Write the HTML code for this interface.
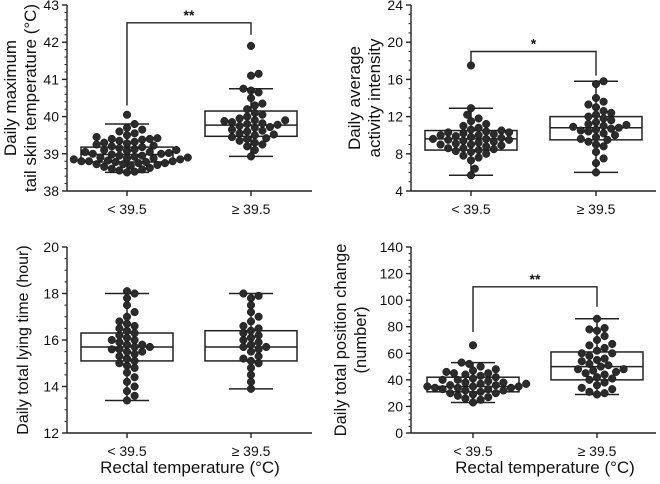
<!DOCTYPE html>
<html><head><meta charset="utf-8"><style>
body{margin:0;background:#fff}
svg{display:block;font-family:"Liberation Sans",Arial,sans-serif}
</style></head><body>
<svg id="c" width="660" height="484" xmlns="http://www.w3.org/2000/svg"></svg>
<script>
// ---------- DATA ----------
const categories = ["< 39.5", "\u2265 39.5"];
const p1_low = [38.5,38.52,38.55,38.58,38.6,38.62,38.65,38.68,38.7,38.72,38.72,38.75,38.75,38.78,38.78,38.8,38.8,38.8,38.82,38.85,38.85,38.88,38.88,38.9,38.9,38.92,38.95,38.95,38.98,39.0,39.0,39.02,39.05,39.05,39.08,39.1,39.1,39.12,39.15,39.18,39.2,39.22,39.25,39.28,39.3,39.32,39.35,39.38,39.4,39.4,39.42,39.45,39.5,39.55,39.6,39.65,39.7,39.8,40.05];
const p1_high = [38.93,39.1,39.2,39.25,39.3,39.35,39.4,39.42,39.45,39.5,39.52,39.55,39.6,39.62,39.65,39.7,39.72,39.75,39.78,39.8,39.82,39.85,39.88,39.9,39.9,39.95,40.0,40.05,40.1,40.2,40.3,40.35,40.5,40.65,40.7,40.75,41.1,41.15,41.9];
const p2_low = [5.7,6.4,7.3,7.6,7.8,8.0,8.2,8.3,8.4,8.5,8.6,8.6,8.8,8.9,9.0,9.0,9.1,9.2,9.3,9.4,9.5,9.5,9.6,9.6,9.7,9.8,9.9,10.0,10.0,10.1,10.2,10.3,10.3,10.4,10.5,10.6,10.8,11.0,11.2,11.5,11.8,12.2,12.9,17.5];
const p2_high = [6.0,7.0,7.5,8.2,8.8,9.0,9.3,9.5,9.6,9.8,10.0,10.2,10.4,10.5,10.6,10.7,10.8,10.9,11.0,11.1,11.2,11.4,11.6,11.8,12.0,12.2,12.4,12.6,13.0,13.3,13.6,14.0,15.5,15.8];
const p3_low = [13.4,13.6,13.8,14.0,14.2,14.4,14.6,14.8,14.9,15.0,15.1,15.2,15.3,15.4,15.5,15.5,15.6,15.6,15.7,15.7,15.8,15.8,15.9,16.0,16.0,16.1,16.2,16.3,16.4,16.5,16.6,16.7,16.8,17.0,17.2,17.5,17.8,18.0,18.1];
const p3_high = [13.9,14.2,14.5,14.8,15.0,15.1,15.2,15.3,15.5,15.6,15.7,15.7,15.8,15.9,16.0,16.1,16.2,16.3,16.4,16.5,16.6,16.8,17.0,17.2,17.5,17.8,17.9,18.0];
const p4_low = [23,25,26,27,28,29,30,30,31,32,32,33,33,34,34,34,35,35,35,36,36,37,37,38,38,39,40,40,41,42,43,44,45,45,46,47,48,50,52,53,66];
const p4_high = [29,30,31,33,34,36,38,40,41,42,44,45,46,47,48,48,50,51,52,54,55,56,58,60,60,62,64,66,67,70,73,77,78,79,86];
// box stats: [whiskerLow, q1, median, q3, whiskerHigh]
const p1_box = [[38.5,38.78,38.98,39.18,39.8],[38.93,39.47,39.77,40.15,40.75]];
const p2_box = [[5.7,8.4,9.6,10.5,12.9],[6.0,9.5,10.8,12.0,15.8]];
const p3_box = [[13.4,15.1,15.7,16.3,18.0],[13.9,15.1,15.7,16.4,18.0]];
const p4_box = [[23,31,35,42,53],[29,40,50,61,86]];
// significance: [bracketY, leftLegEnd, rightLegEnd], label
const p1_sig = [42.52,40.3,42.2]; const p1_sigLabel = "**";
const p2_sig = [19.0,17.9,16.4]; const p2_sigLabel = "*";
const p4_sig = [110,76,95]; const p4_sigLabel = "**";
const p1_ticks=[38,39,40,41,42,43], p2_ticks=[4,8,12,16,20,24], p3_ticks=[12,14,16,18,20], p4_ticks=[0,20,40,60,80,100,120,140];

// ---------- DRAW ----------
const svg=document.getElementById('c');
const NS="http://www.w3.org/2000/svg";
function mk(tag,attrs,parent){const e=document.createElementNS(NS,tag);for(const k in attrs)e.setAttribute(k,attrs[k]);(parent||svg).appendChild(e);return e;}

function panel(cfg){
  const g=mk('g',{});
  
  
  const ymin=cfg.ticks[0], ymax=cfg.ticks[cfg.ticks.length-1];
  const Y=v=>cfg.yb-(v-ymin)/(ymax-ymin)*(cfg.yb-cfg.yt);
  const ya=mk('line',{x1:cfg.x0,y1:cfg.yt,x2:cfg.x0,y2:cfg.yb,stroke:'#222','stroke-width':1.4},g);
   
  const xa=mk('line',{x1:cfg.x0,y1:cfg.yb,x2:cfg.x1,y2:cfg.yb,stroke:'#222','stroke-width':1.4},g);
   
  const step=cfg.ticks[1]-cfg.ticks[0];
  for(let v=ymin;v<=ymax+1e-9;v+=step/cfg.minor){
    mk('line',{x1:cfg.x0-2.5,y1:Y(v),x2:cfg.x0,y2:Y(v),stroke:'#222','stroke-width':1},g);
  }
  cfg.ticks.forEach(t=>{
    mk('line',{x1:cfg.x0-5,y1:Y(t),x2:cfg.x0,y2:Y(t),stroke:'#222','stroke-width':1.4},g);
    const tx=mk('text',{x:cfg.x0-8,y:Y(t)+5,'text-anchor':'end','font-size':14,fill:'#111'},g);
    tx.textContent=t;
     
  });
  cfg.title.forEach((line,i)=>{
    const tx=mk('text',{x:0,y:0,'text-anchor':'middle','font-size':cfg.tfs||16.5,fill:'#111',
      transform:`translate(${cfg.tx[i]},${(cfg.yt+cfg.yb)/2}) rotate(-90)`},g);
    tx.textContent=line;
     
  });
  cfg.data.forEach((arr,gi)=>{
    const cx=cfg.cx[gi], b=cfg.box[gi], hw=46, cap=22;
    const lab=mk('text',{x:cx,y:cfg.yb+23,'text-anchor':'middle','font-size':14,fill:'#111'},g);
    lab.textContent=categories[gi];
     
    mk('line',{x1:cx,y1:cfg.yb,x2:cx,y2:cfg.yb+5,stroke:'#222','stroke-width':1.4},g);
    const bg=mk('g',{stroke:'#222','stroke-width':1.5,fill:'none'},g);
     
    mk('line',{x1:cx,y1:Y(b[0]),x2:cx,y2:Y(b[4])},bg);
    mk('line',{x1:cx-cap,y1:Y(b[0]),x2:cx+cap,y2:Y(b[0])},bg);
    mk('line',{x1:cx-cap,y1:Y(b[4]),x2:cx+cap,y2:Y(b[4])},bg);
    mk('rect',{x:cx-hw,y:Y(b[3]),width:2*hw,height:Y(b[1])-Y(b[3]),fill:'#fff'},bg);
    mk('line',{x1:cx-hw,y1:Y(b[2]),x2:cx+hw,y2:Y(b[2])},bg);
    const r=3.8, placed=[];
    const sorted=arr.slice().sort((a,b)=>a-b);
    sorted.forEach(v=>{
      const y=Y(v); let x=cx;
      for(let k=0;k<60;k++){
        const off=(k%2?1:-1)*Math.ceil(k/2)*r*1.0;
        const tx=cx+off;
        if(placed.every(p=>(p[0]-tx)**2+(p[1]-y)**2>=(2*r*0.9)**2)){x=tx;break;}
      }
      placed.push([x,y]);
      const c=mk('circle',{cx:x,cy:y,r:r,fill:'#2b2b2b',stroke:'#111','stroke-width':0.5},g);
       
    });
  });
  if(cfg.sig){
    const s=cfg.sig;
    const br=mk('path',{d:`M${cfg.cx[0]},${Y(s[1])}V${Y(s[0])}H${cfg.cx[1]}V${Y(s[2])}`,fill:'none',stroke:'#222','stroke-width':1.4},g);
     
    const st=mk('text',{x:(cfg.cx[0]+cfg.cx[1])/2,y:Y(s[0])-3,'text-anchor':'middle','font-size':14,'font-weight':'bold',fill:'#111'},g);
    st.textContent=cfg.sigLabel;
     
  }
}
panel({name:'panel-tail-temp',x0:67,x1:312,yt:5,yb:191,ticks:p1_ticks,minor:5,cx:[127,251],data:[p1_low,p1_high],box:p1_box,
  title:['Daily maximum','tail skin temperature (°C)'],tx:[16,36],tfs:17,sig:p1_sig,sigLabel:p1_sigLabel});
panel({name:'panel-activity',x0:411,x1:656,yt:5,yb:191,ticks:p2_ticks,minor:4,cx:[471,596],data:[p2_low,p2_high],box:p2_box,
  title:['Daily average','activity intensity'],tx:[360,380],tfs:17,sig:p2_sig,sigLabel:p2_sigLabel});
panel({name:'panel-lying-time',x0:67,x1:312,yt:247,yb:433,ticks:p3_ticks,minor:4,cx:[127,251],data:[p3_low,p3_high],box:p3_box,
  title:['Daily total lying time (hour)'],tx:[28],tfs:16});
panel({name:'panel-position-change',x0:411,x1:656,yt:247,yb:433,ticks:p4_ticks,minor:4,cx:[473,597],data:[p4_low,p4_high],box:p4_box,
  title:['Daily total position change','(number)'],tx:[346,366],tfs:16.5,sig:p4_sig,sigLabel:p4_sigLabel});
[[190,'x-axis-title-left'],[545,'x-axis-title-right']].forEach(([x,n])=>{
  const t=mk('text',{x:x,y:473,'text-anchor':'middle','font-size':17,fill:'#111'});
  t.textContent='Rectal temperature (°C)';
   
});
</script>
</body></html>
